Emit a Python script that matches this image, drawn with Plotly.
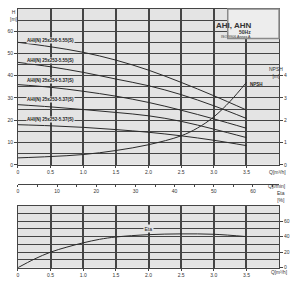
import plotly.graph_objects as go

# ---- data ----
q = [0, 0.5, 1.0, 1.5, 2.0, 2.5, 3.0, 3.5]
h_256_555 = [55, 53, 50.5, 47, 42.5, 37, 31, 24.6]
h_253_555 = [46, 44, 41.5, 38.5, 35.5, 31.5, 26.5, 20.8]
h_254_537 = [36, 34.8, 33, 30.8, 28, 24.5, 20.6, 16.4]
h_253_537 = [27, 26, 24.8, 23.5, 22, 19.5, 16, 12.2]
h_252_537 = [18, 17.5, 16.8, 15.8, 14.6, 13, 11, 8.6]
curve_names = ["AHI(N) 25x256-5.55(S)", "AHI(N) 25x253-5.55(S)", "AHI(N) 25x254-5.37(S)",
               "AHI(N) 25x253-5.37(S)", "AHI(N) 25x252-5.37(S)"]
label_h = [55.7, 46.8, 37.9, 29.1, 20.4]

q_npsh = [0, 0.5, 1.0, 1.5, 2.0, 2.5, 2.75, 3.0, 3.25, 3.5]
npsh = [0.31, 0.37, 0.46, 0.64, 0.9, 1.3, 1.65, 2.15, 2.85, 3.7]

q_eta = [0, 0.25, 0.5, 0.75, 1.0, 1.25, 1.5, 2.0, 2.5, 3.0, 3.5]
eta = [0, 11, 20, 26.5, 32, 36.5, 39.5, 42.5, 43.5, 43, 40]

x_ticks = [0, 0.5, 1.0, 1.5, 2.0, 2.5, 3.0, 3.5]
x_ticktext = ["0", "0.5", "1.0", "1.5", "2.0", "2.5", "3.0", "3.5"]
h_ticks = [0, 10, 20, 30, 40, 50, 60]
npsh_ticks = [0, 1, 2, 3, 4]
lmin_ticks = [0, 10, 20, 30, 40, 50, 60]
eta_ticks = [0, 20, 40, 60]

W, H = 300, 288
BG = "#e4e4e4"
GRID = "#454545"
LINE = "#2a2a2a"
FONT = "Liberation Sans"

def px(x):
    return x / W

def py(y):
    return 1 - y / H

fig = go.Figure()
for hv in [h_256_555, h_253_555, h_254_537, h_253_537, h_252_537]:
    fig.add_trace(go.Scatter(x=q, y=hv, mode="lines", line=dict(color=LINE, width=1, shape="spline"),
                             xaxis="x", yaxis="y", showlegend=False, hoverinfo="skip"))
fig.add_trace(go.Scatter(x=q_npsh, y=npsh, mode="lines", line=dict(color=LINE, width=1, shape="spline"),
                         xaxis="x", yaxis="y2", showlegend=False, hoverinfo="skip"))
fig.add_trace(go.Scatter(x=[0, 66.667], y=[None, None], mode="lines", xaxis="x2", yaxis="y",
                         showlegend=False, hoverinfo="skip"))
fig.add_trace(go.Scatter(x=q_eta, y=eta, mode="lines", line=dict(color=LINE, width=1, shape="spline"),
                         xaxis="x3", yaxis="y3", showlegend=False, hoverinfo="skip"))

xdom = [px(17), px(279)]
tickfont = dict(family=FONT, size=5, color="#333")
common_x = dict(domain=xdom, range=[0, 4], tickvals=x_ticks, ticktext=x_ticktext, showgrid=True,
                gridcolor=GRID, gridwidth=1.6, ticks="outside", ticklen=2, tickcolor=GRID,
                tickfont=tickfont, showline=True, linecolor=GRID, linewidth=1, mirror=True,
                zeroline=False, fixedrange=True,
                minor=dict(tickvals=[4.0], showgrid=False))

fig.update_layout(
    width=W, height=H, margin=dict(l=0, r=0, t=0, b=0),
    paper_bgcolor="white", plot_bgcolor=BG,
    xaxis=dict(**common_x, anchor="y"),
    yaxis=dict(domain=[py(166.5), py(9)], range=[0, 70], tickvals=h_ticks, showgrid=True,
               gridcolor=GRID, gridwidth=1, ticks="outside", ticklen=3, tickcolor=GRID,
               tickfont=tickfont, showline=True, linecolor=GRID, mirror=True, zeroline=False,
               minor=dict(dtick=5, showgrid=True, gridcolor=GRID, gridwidth=1), anchor="x"),
    yaxis2=dict(range=[0, 7], overlaying="y", side="right", tickvals=npsh_ticks, showgrid=False,
                ticks="outside", ticklen=3, tickcolor=GRID, tickfont=tickfont, zeroline=False,
                anchor="x"),
    xaxis2=dict(domain=xdom, range=[0, 66.667], anchor="free", position=py(186), overlaying="x",
                side="bottom", tickvals=lmin_ticks, showgrid=False, ticks="outside", ticklen=2,
                tickcolor=GRID, tickfont=tickfont, showline=True, linecolor=GRID, linewidth=1,
                zeroline=False, minor=dict(dtick=5, ticks="outside", ticklen=2, tickcolor=GRID)),
    xaxis3=dict(**common_x, anchor="y3"),
    yaxis3=dict(domain=[py(270.5), py(207.7)], range=[0, 80], side="right", tickvals=eta_ticks,
                showgrid=True, gridcolor=GRID, gridwidth=1, ticks="outside", ticklen=3,
                tickcolor=GRID, tickfont=tickfont, showline=True, linecolor=GRID, mirror=True,
                zeroline=False, minor=dict(dtick=10, showgrid=True, gridcolor=GRID, gridwidth=1),
                anchor="x3"),
)

annos = []
for name, hv in zip(curve_names, label_h):
    annos.append(dict(x=0.5, y=hv, xref="x", yref="y", text=name, showarrow=False,
                      font=dict(family=FONT, size=4.5, color="#222", weight="bold"),
                      bgcolor=BG, borderpad=0))
annos.append(dict(x=3.5, y=3.6, xref="x", yref="y2", text="NPSH", showarrow=False, xanchor="left",
                  xshift=2, font=dict(family=FONT, size=4.5, color="#222", weight="bold")))
annos.append(dict(x=2.0, y=50, xref="x3", yref="y3", text="Eta", showarrow=False,
                  font=dict(family=FONT, size=5, color="#222"), bgcolor=BG, borderpad=0.5))

def ptext(x, y, text, size=5, **kw):
    annos.append(dict(x=px(x), y=py(y), xref="paper", yref="paper", text=text, showarrow=False,
                      font=dict(family=FONT, size=size, color="#333", **kw)))

ptext(7.5, 7.5, "H<br>[m]")
ptext(285, 64.5, "NPSH<br>[m]")
ptext(288, 174, "Q[m³/h]")
ptext(288, 193, "Q[l/min]")
ptext(287, 207.5, "Eta<br>[%]")
ptext(289, 279.5, "Q[m³/h]", size=4.8)
ptext(253, 19.5, "AHI, AHN", size=8, weight="bold")
ptext(253, 27.5, "50Hz", size=5, weight="bold")
ptext(253, 33.5, "ISO 9906 Annex A", size=3.6)
fig.update_layout(annotations=annos)

fig.add_shape(type="rect", xref="paper", yref="paper", x0=px(227.5), x1=px(279), y0=py(39),
              y1=py(9), fillcolor="#ededed", line=dict(color="#8a8a8a", width=1.5), layer="above")

fig.write_html("out.html")
